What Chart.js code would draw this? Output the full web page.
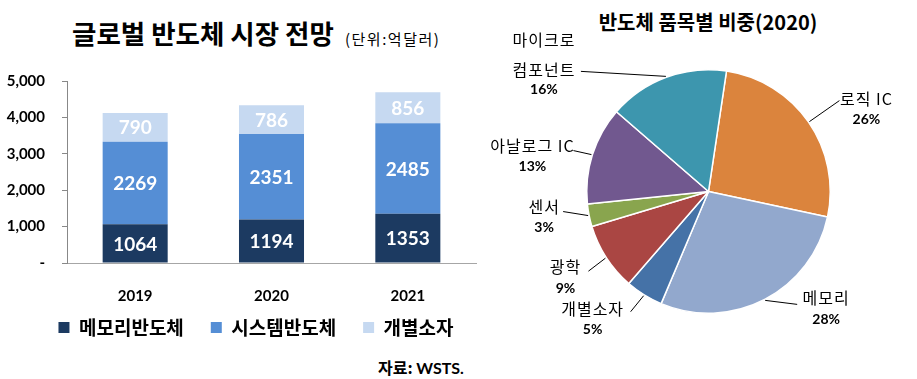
<!DOCTYPE html>
<html><head><meta charset="utf-8">
<script src="https://cdn.jsdelivr.net/npm/chart.js@4/dist/chart.umd.min.js"></script>
<style>
html,body{margin:0;padding:0;background:#fff;}
body{width:917px;height:379px;position:relative;overflow:hidden;font-family:"Noto Sans CJK KR",sans-serif;color:#000;}
.t{position:absolute;white-space:nowrap;}
#barWrap{position:absolute;left:0;top:0;width:520px;height:379px;}
#pieWrap{position:absolute;left:480px;top:0;width:437px;height:379px;}
</style></head>
<body>
<div class="t" style="left:72px;top:17px;font-size:26.5px;font-weight:700;line-height:32px;">글로벌 반도체 시장 전망</div>
<div class="t" style="left:345px;top:30px;font-size:15px;letter-spacing:1.5px;line-height:18px;">(단위:억달러)</div>
<div class="t" style="left:560px;top:10px;width:296px;text-align:center;font-size:20px;font-weight:700;line-height:24px;">반도체 품목별 비중(2020)</div>
<div class="t" style="left:378px;top:357px;font-size:16px;font-weight:700;line-height:20px;">자료: <span style="font-family:Lato,sans-serif;font-size:16px;">WSTS.</span></div>
<div id="barWrap"><canvas id="bar" width="520" height="379"></canvas></div>
<div id="pieWrap"><canvas id="pie" width="437" height="379"></canvas></div>
<script>
// ---- data ----
const years = ['2019', '2020', '2021'];
const seriesNames = ['메모리반도체', '시스템반도체', '개별소자'];
const memoryVals = [1064, 1194, 1353];
const systemVals = [2269, 2351, 2485];
const discreteVals = [790, 786, 856];
const yTicks = [0, 1000, 2000, 3000, 4000, 5000];

const pieLabels = ['로직 IC', '메모리', '개별소자', '광학', '센서', '아날로그 IC', '마이크로|컴포넌트'];
const pieValues = [26, 28, 5, 9, 3, 13, 16];

// ---- styles ----
const barColors = ['#1C3A61', '#558ED5', '#C6D9F1'];
const pieColors = ['#DB843D', '#92A8CD', '#4572A7', '#AA4643', '#89A54E', '#71588F', '#3D96AE'];
// label placement relative to the slice's outer edge point at its mid angle: [lineEndDx, lineEndDy, textDx, textDy]
const pieLabelPlace = [
  [30, -21, 57, -23],
  [32, 4, 61, -2],
  [-13, 16, -51, 13],
  [-17, 13, -40, 9],
  [-25, -4, -44, -9],
  [-18, -4, -59, -9],
  [-85, -5, -122, -6]
];

Chart.defaults.font.family = 'Lato, "Noto Sans CJK KR", sans-serif';
Chart.defaults.color = '#000';

const barValueLabels = {
  id: 'barValueLabels',
  afterDatasetsDraw(chart) {
    const ctx = chart.ctx;
    ctx.save();
    ctx.fillStyle = '#fff';
    ctx.font = 'bold 19px Lato, sans-serif';
    ctx.textAlign = 'center';
    ctx.textBaseline = 'middle';
    chart.data.datasets.forEach((ds, di) => {
      chart.getDatasetMeta(di).data.forEach((el, i) => {
        ctx.fillText(String(ds.data[i]), el.x, (el.y + el.base) / 2 + 1);
      });
    });
    ctx.restore();
  }
};

new Chart(document.getElementById('bar'), {
  type: 'bar',
  data: {
    labels: years,
    datasets: [
      { label: seriesNames[0], data: memoryVals, backgroundColor: barColors[0] },
      { label: seriesNames[1], data: systemVals, backgroundColor: barColors[1] },
      { label: seriesNames[2], data: discreteVals, backgroundColor: barColors[2] }
    ]
  },
  options: {
    responsive: false,
    animation: false,
    layout: { padding: { left: 0, right: 8, top: 81, bottom: 32 } },
    datasets: { bar: { categoryPercentage: 1, barPercentage: 0.477 } },
    scales: {
      x: {
        stacked: true,
        grid: { display: false },
        border: { display: true, color: '#A6A6A6', width: 1 },
        ticks: { padding: 16, font: { size: 15, weight: 'bold' }, color: '#000' },
        afterFit(s) { s.height = 41; }
      },
      y: {
        stacked: true,
        min: 0, max: 5000,
        afterBuildTicks(s) { s.ticks = yTicks.map(v => ({ value: v })); },
        grid: { drawOnChartArea: false, drawTicks: true, tickLength: 5, color: '#888' },
        border: { display: true, color: '#888', width: 1 },
        ticks: {
          padding: 17,
          font: { size: 15, weight: 'bold' },
          color: '#000',
          callback: v => v === 0 ? '-' : v.toLocaleString('en-US')
        },
        afterFit(s) { s.width = 67; }
      },
      yRight: {
        position: 'right',
        display: true,
        grid: { display: false },
        border: { display: false },
        ticks: { display: false },
        afterFit(s) { s.width = 36; }
      }
    },
    plugins: {
      legend: {
        position: 'bottom',
        labels: {
          boxWidth: 11, boxHeight: 11, padding: 14,
          font: { family: '"Noto Sans CJK KR", sans-serif', size: 19, weight: 'bold' },
          color: '#000',
          generateLabels(chart) {
            const items = Chart.defaults.plugins.legend.labels.generateLabels(chart);
            items.forEach((it, i) => { if (i < items.length - 1) it.text = it.text + '   '; });
            return items;
          }
        }
      },
      tooltip: { enabled: false }
    }
  },
  plugins: [barValueLabels]
});

const pieLabelPlugin = {
  id: 'pieLabelPlugin',
  afterDatasetsDraw(chart) {
    const ctx = chart.ctx;
    const meta = chart.getDatasetMeta(0);
    ctx.save();
    meta.data.forEach((arc, i) => {
      const mid = (arc.startAngle + arc.endAngle) / 2;
      const R = arc.outerRadius + 1;
      const ex = arc.x + R * Math.cos(mid);
      const ey = arc.y + R * Math.sin(mid);
      const p = pieLabelPlace[i];
      ctx.strokeStyle = '#000';
      ctx.lineWidth = 1;
      ctx.beginPath();
      ctx.moveTo(ex, ey);
      ctx.lineTo(ex + p[0], ey + p[1]);
      ctx.stroke();
      const lines = pieLabels[i].split('|');
      const tx = ex + p[2];
      const ty = ey + p[3];
      ctx.textAlign = 'center';
      ctx.textBaseline = 'middle';
      ctx.fillStyle = '#000';
      ctx.font = '16px "Noto Sans CJK KR", sans-serif';
      try { ctx.letterSpacing = '1px'; } catch (e) {}
      lines.forEach((ln, k) => {
        ctx.fillText(ln, tx, ty - (lines.length - 1 - k) * 30);
      });
      try { ctx.letterSpacing = '0px'; } catch (e) {}
      ctx.font = 'bold 14px Lato, sans-serif';
      ctx.fillText(pieValues[i] + '%', tx, ty + (lines.length > 1 ? 19 : 21));
    });
    ctx.restore();
  }
};

new Chart(document.getElementById('pie'), {
  type: 'pie',
  data: {
    labels: pieLabels.map(s => s.replace('|', '')),
    datasets: [{ data: pieValues, backgroundColor: pieColors, borderColor: '#fff', borderWidth: 1.5 }]
  },
  options: {
    responsive: false,
    animation: false,
    rotation: 8.5,
    layout: { padding: { left: 106, right: 86, top: 69, bottom: 65 } },
    plugins: { legend: { display: false }, tooltip: { enabled: false } }
  },
  plugins: [pieLabelPlugin]
});
</script>
</body></html>
